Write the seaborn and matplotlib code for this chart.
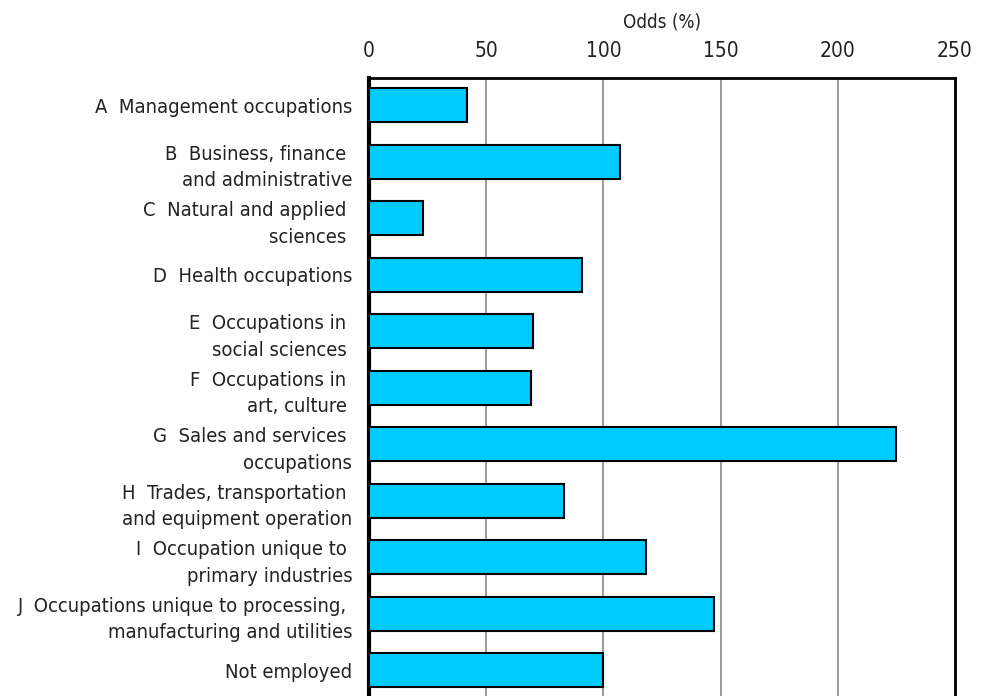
import matplotlib
matplotlib.use('Agg')
import matplotlib.pyplot as plt
import seaborn as sns
import pandas as pd
from matplotlib import font_manager

# =============================================================================
# Data
# =============================================================================

occupations = [
    'A  Management occupations',
    'B  Business, finance \nand administrative',
    'C  Natural and applied \nsciences ',
    'D  Health occupations',
    'E  Occupations in \nsocial sciences ',
    'F  Occupations in \nart, culture ',
    'G  Sales and services \noccupations',
    'H  Trades, transportation \nand equipment operation',
    'I  Occupation unique to \nprimary industries',
    'J  Occupations unique to processing, \nmanufacturing and utilities',
    'Not employed',
]
odds = [42, 107, 23, 91, 70, 69, 225, 83, 118, 147, 100]
x_ticks = [0, 50, 100, 150, 200, 250]

df = pd.DataFrame({'occupation': occupations, 'odds': odds})

# =============================================================================
# Plot
# =============================================================================

sns.set_theme(style='white')

# look for a condensed face, fall back to Roboto
family, stretch, narrow = 'Roboto', 'normal', False
for f in font_manager.fontManager.ttflist:
    tag = (f.name + ' ' + str(f.stretch)).lower()
    if ('narrow' in tag or 'condensed' in tag) and f.style == 'normal' and f.weight in (400, 'normal', 'regular'):
        family, stretch, narrow = f.name, f.stretch, True
        break
plt.rcParams['font.family'] = [family, 'DejaVu Sans']
plt.rcParams['font.stretch'] = stretch

lab_size = 14.5 if narrow else 12.5
tick_size = 15 if narrow else 13

fig = plt.figure(figsize=(9.83, 6.96), dpi=100)
ax = fig.add_axes([369 / 983, -0.002, (955 - 369) / 983, (696 - 78) / 696 + 0.002])

sns.barplot(
    data=df,
    x='odds',
    y='occupation',
    order=occupations,
    color='#00CCFF',
    saturation=1,
    edgecolor='black',
    linewidth=1.5,
    width=0.6,
    ax=ax,
    zorder=3,
)

ax.set_xlim(0, 250)
ax.set_ylim(10.48, -0.48)
ax.set_xticks(x_ticks)
ax.xaxis.tick_top()
ax.xaxis.set_label_position('top')
ax.set_xlabel('Odds (%)', fontsize=lab_size - 1, color='#222222', labelpad=10)
ax.set_ylabel('')
ax.tick_params(axis='x', length=0, pad=12, labelsize=tick_size, labelcolor='#222222')
ax.tick_params(axis='y', length=0, pad=12, labelsize=lab_size, labelcolor='#222222')
for lbl in ax.get_yticklabels():
    lbl.set_ha('right')
    lbl.set_multialignment('right')
    lbl.set_linespacing(1.5)

ax.grid(axis='x', color='#9a9a9a', linewidth=1.4, zorder=0)
ax.set_axisbelow(True)

ax.spines['left'].set_linewidth(3)
ax.spines['top'].set_linewidth(2)
ax.spines['right'].set_linewidth(2)
ax.spines['bottom'].set_visible(False)
for s in ax.spines.values():
    s.set_color('black')

fig.savefig('out.png', dpi=100)
